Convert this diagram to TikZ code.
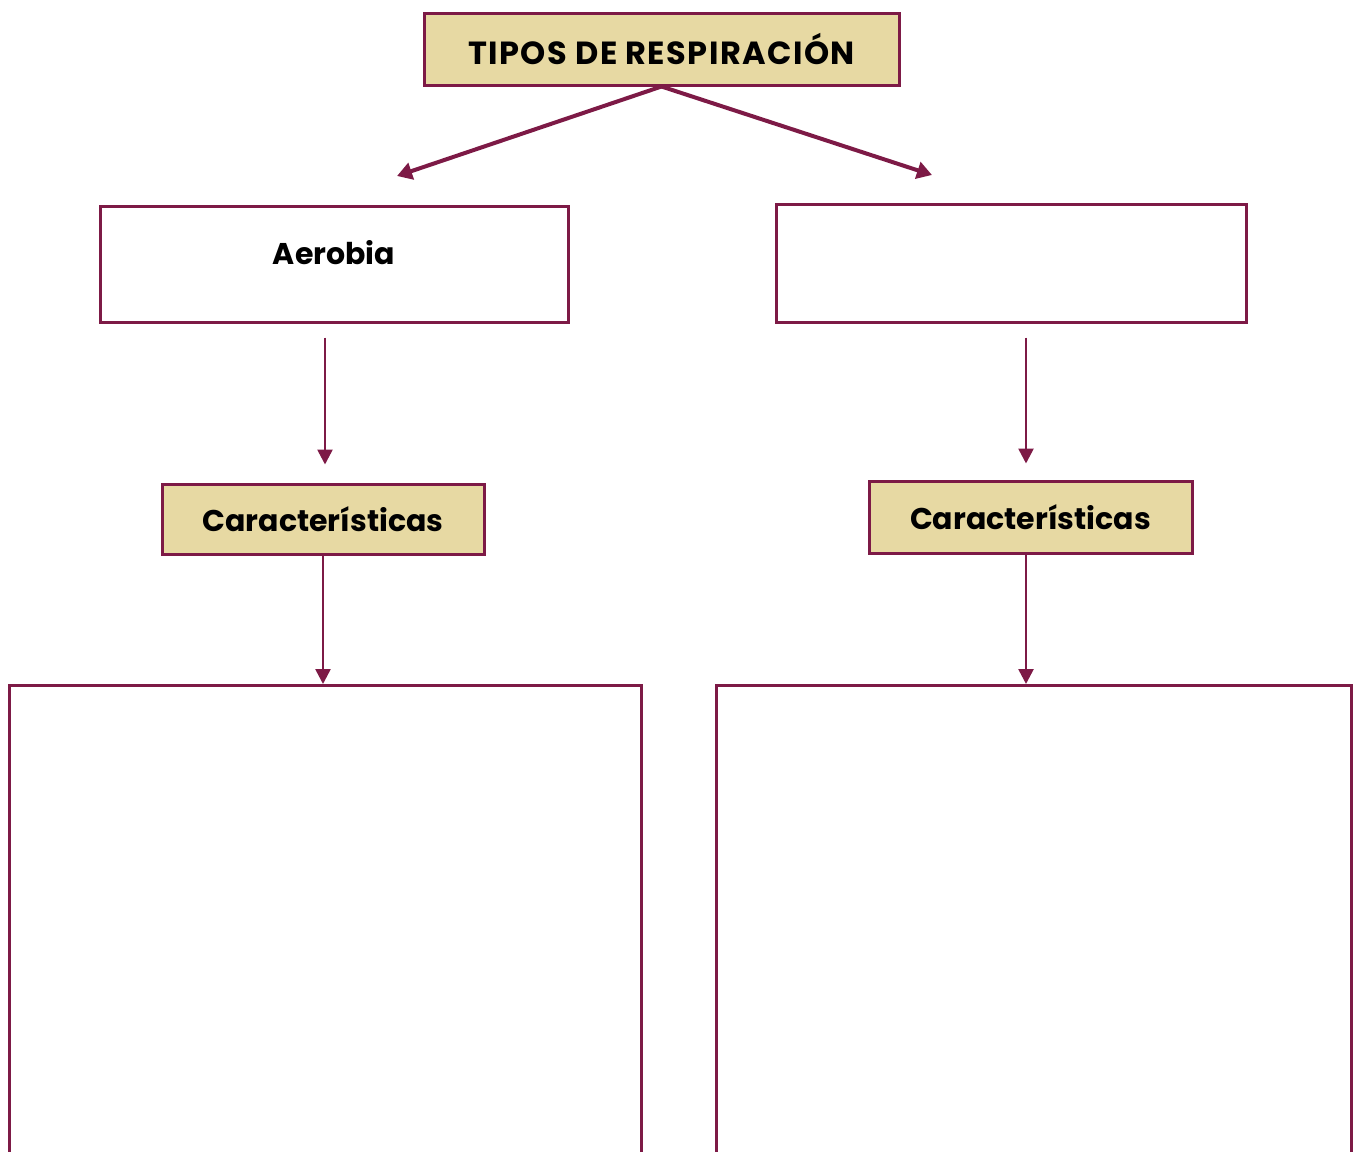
\documentclass[tikz,border=0pt]{standalone}
\usepackage{fontspec}
\setmainfont{Poppins}
\usepackage{tikz}
\usetikzlibrary{arrows.meta,positioning}
\definecolor{RESPmaroon}{HTML}{7D1A46}
\definecolor{RESPsand}{HTML}{E7D9A3}
\tikzset{
  resp/head/.style={draw=RESPmaroon, line width=1.5pt, fill=RESPsand, align=center, inner sep=4pt,
    font=\bfseries\fontsize{15}{17}\selectfont},
  resp/box/.style={draw=RESPmaroon, line width=1.5pt, fill=white, align=center, inner sep=4pt,
    font=\bfseries\fontsize{15}{17}\selectfont},
  resp/big/.style={draw=RESPmaroon, line width=1.5pt, fill=white, anchor=north},
  resp/arr/.style={draw=RESPmaroon, line width=2pt, -{Triangle[length=7.5pt,width=8.5pt]}},
  resp/varr/.style={draw=RESPmaroon, line width=1.3pt, -{Triangle[length=7.5pt,width=7.5pt]}}
}
\begin{document}
\begin{tikzpicture}[x=0.5pt, y=-0.5pt, node distance=6mm]
\useasboundingbox (0,0) rectangle (1353,1151);
\begin{scope}
\clip (0,0) rectangle (1353,1151);
\node[resp/head, minimum width=237.5pt, minimum height=36pt] (tipos) at (661.5,49)
  {\fontsize{16}{18}\selectfont\addfontfeature{LetterSpace=4.5}TIPOS DE RESPIRACIÓN};
\node[resp/box, minimum width=234pt, minimum height=58pt, text height=10pt, text depth=10pt] (aer) at (334,264) {Aerobia};
\node[resp/box, minimum width=235pt, minimum height=59pt] (ana) at (1011,263) {};
\node[resp/head, minimum width=161pt, minimum height=35pt] (carl) at (323,519) {Características};
\node[resp/head, minimum width=161.5pt, minimum height=36pt] (carr) at (1030.5,517) {Características};
\node[resp/big, minimum width=316pt, minimum height=260pt] (bigl) at (325,684) {};
\node[resp/big, minimum width=317.5pt, minimum height=260pt] (bigr) at (1033.5,684) {};
\end{scope}
\coordinate (aertip) at (397,176);
\coordinate (anatip) at (932,175);
\draw[resp/arr] (tipos.south) -- (aertip);
\draw[resp/arr] (tipos.south) -- (anatip);
\draw[resp/varr] ([yshift=-7pt]aer.south -| 325,0) -- ([yshift=9pt]carl.north -| 325,0);
\draw[resp/varr] ([yshift=-7pt]ana.south -| 1026,0) -- ([yshift=8pt]carr.north -| 1026,0);
\draw[resp/varr] (carl.south) -- (carl.south |- bigl.north);
\draw[resp/varr] (carr.south -| 1026,0) -- (bigr.north -| 1026,0);
\end{tikzpicture}
\end{document}
